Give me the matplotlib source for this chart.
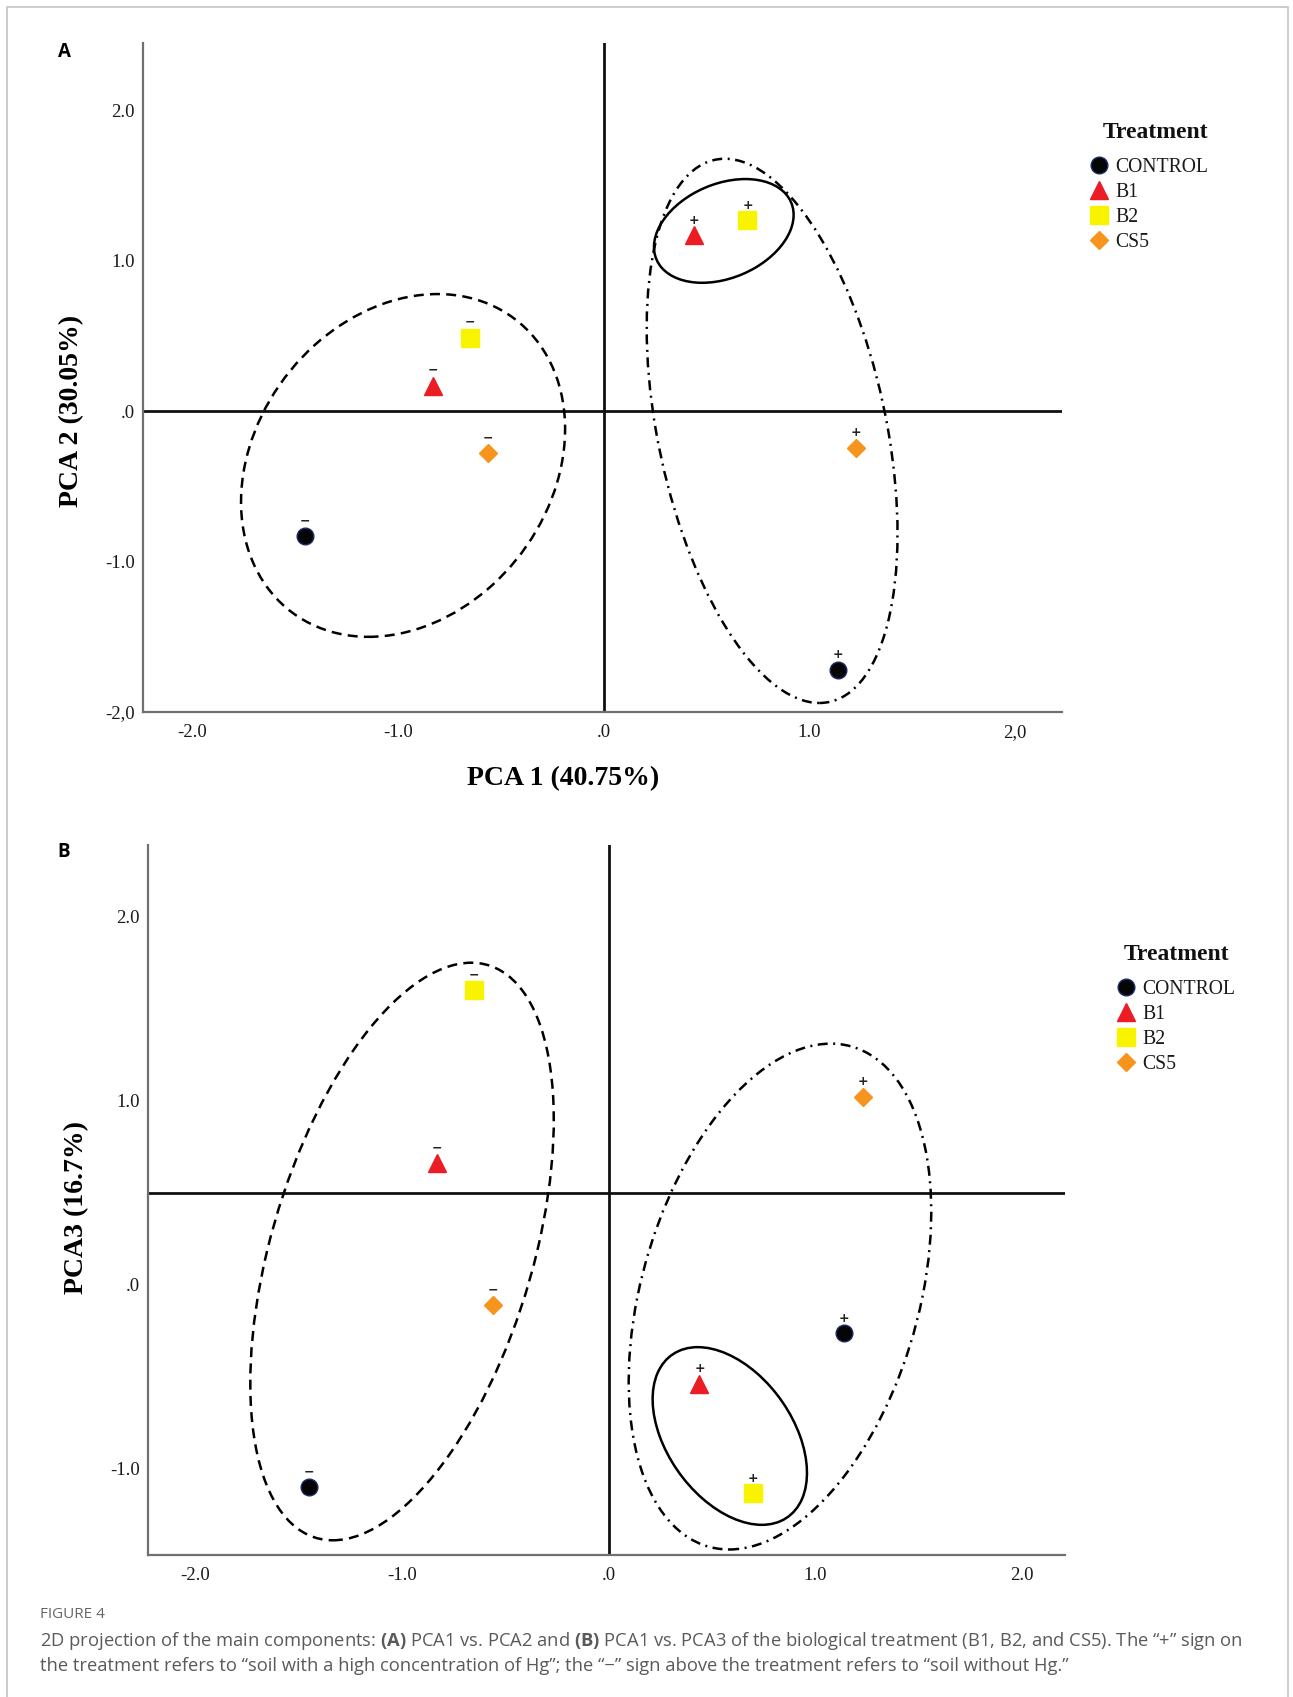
import numpy as np
import matplotlib
matplotlib.use('Agg')
import matplotlib.pyplot as plt
from matplotlib.lines import Line2D
from matplotlib.patches import Circle, Rectangle
from matplotlib.transforms import Affine2D

# ---- data ----
treatments = ['CONTROL', 'B1', 'B2', 'CS5']

# "-" = soil without Hg, "+" = soil with high Hg
pca1_minus = [-1.45, -0.83, -0.65, -0.56]
pca1_plus = [1.14, 0.44, 0.70, 1.23]
pca2_minus = [-0.83, 0.17, 0.49, -0.28]
pca2_plus = [-1.72, 1.17, 1.27, -0.245]
pca3_minus = [-1.10, 0.66, 1.60, -0.11]
pca3_plus = [-0.265, -0.54, -1.135, 1.02]

# group ellipses: centre x, centre y, half width, half height, shear
ell_a_minus = [-0.975, -0.36, 0.77, 1.14, 0.168]
ell_a_plus = [0.82, -0.13, 0.565, 1.81, -0.23]
ell_a_inner = [0.585, 1.20, 0.323, 0.345, 0.105]
ell_b_minus = [-1.0, 0.18, 0.654, 1.57, 0.335]
ell_b_plus = [0.83, -0.065, 0.69, 1.375, 0.246]
ell_b_inner = [0.587, -0.823, 0.34, 0.483, -0.155]

ticks = [-2, -1, 0, 1, 2]
xlabels_a = ['-2.0', '-1.0', '.0', '1.0', '2,0']
ylabels_a = ['-2,0', '-1.0', '.0', '1.0', '2.0']
xlabels_b = ['-2.0', '-1.0', '.0', '1.0', '2.0']
yticks_b = [-1, 0, 1, 2]
ylabels_b = ['-1.0', '.0', '1.0', '2.0']

markers = ['o', '^', 's', 'D']
colors = ['#050505', '#ec1c24', '#f8f400', '#f7941d']
edges = ['#1c2a6a', '#ec1c24', '#f8f400', '#f7941d']
msizes = [12, 13, 13, 9.5]

W, H = 1293, 1697
SERIF = 'Liberation Serif'

plt.rcParams['mathtext.fontset'] = 'custom'
plt.rcParams['mathtext.rm'] = 'Open Sans'
plt.rcParams['mathtext.bf'] = 'Open Sans:bold'

fig = plt.figure(figsize=(W / 100, H / 100), dpi=100)


def px_box(left, top, right, bottom):
    # pixel box (from top-left) -> figure fraction rect
    return [left / W, 1 - bottom / H, (right - left) / W, (bottom - top) / H]


def add_ellipse(ax, e, ls):
    cx, cy, rx, ry, sh = e
    tr = Affine2D(np.array([[rx, sh, cx], [0, ry, cy], [0, 0, 1]])) + ax.transData
    ax.add_patch(Circle((0, 0), 1, transform=tr, fill=False, ec='black',
                        lw=1.8, ls=ls, zorder=2))


def draw_panel(ax, xs_m, ys_m, xs_p, ys_p):
    for i in range(len(treatments)):
        for x, y, sign in [(xs_m[i], ys_m[i], '\u2212'), (xs_p[i], ys_p[i], '+')]:
            ax.plot(x, y, ls='none', marker=markers[i], color=colors[i],
                    mec=edges[i], mew=1, ms=msizes[i], zorder=4)
            ax.annotate(sign, (x, y), xytext=(0, 11), textcoords='offset points',
                        ha='center', va='center', fontsize=9, fontweight='bold',
                        color='#222222', zorder=5)


def style_axes(ax):
    for s in ['top', 'right']:
        ax.spines[s].set_visible(False)
    for s in ['left', 'bottom']:
        ax.spines[s].set_color('#707070')
        ax.spines[s].set_linewidth(1.6)
    ax.axvline(0, color='#111111', lw=2.0, zorder=1)
    ax.tick_params(length=0, labelsize=13.5, labelcolor='#1a1a1a')
    ax.tick_params(axis='x', pad=9)
    ax.tick_params(axis='y', pad=6)
    for lab in ax.get_xticklabels() + ax.get_yticklabels():
        lab.set_family(SERIF)


def add_legend(left, first_row, title_left, title_y):
    handles = [Line2D([], [], ls='none', marker=markers[i], color=colors[i],
                      mec=edges[i], ms=msizes[i]) for i in range(len(treatments))]
    leg = fig.legend(handles, treatments, loc='upper left',
                     bbox_to_anchor=(left / W, 1 - (first_row - 9) / H), frameon=False,
                     prop=dict(family=SERIF, size=14.2),
                     handlelength=0.8, handletextpad=0.45, labelspacing=0.3,
                     borderpad=0, borderaxespad=0)
    for t in leg.get_texts():
        t.set_color('#1a1a1a')
    fig.text(title_left / W, 1 - title_y / H, 'Treatment', family=SERIF,
             weight='bold', fontsize=17, color='#111111', ha='left', va='center')


# ---- panel A: PCA1 vs PCA2 ----
ax_a = fig.add_axes(px_box(143, 43, 1062, 712))
ax_a.set_xlim(-2.24, 2.23)
ax_a.set_ylim(-2.0, 2.45)
ax_a.set_xticks(ticks)
ax_a.set_xticklabels(xlabels_a)
ax_a.set_yticks(ticks)
ax_a.set_yticklabels(ylabels_a)
style_axes(ax_a)
ax_a.axhline(0, color='#111111', lw=2.0, zorder=1)
add_ellipse(ax_a, ell_a_minus, (0, (4, 2.5)))
add_ellipse(ax_a, ell_a_plus, (0, (4, 2.2, 0.8, 2.2)))
add_ellipse(ax_a, ell_a_inner, '-')
draw_panel(ax_a, pca1_minus, pca2_minus, pca1_plus, pca2_plus)
ax_a.set_xlabel('PCA 1 (40.75%)', family=SERIF, weight='bold', fontsize=20)
ax_a.xaxis.set_label_coords(0.457, -0.081)
ax_a.set_ylabel('PCA 2 (30.05%)', family=SERIF, weight='bold', fontsize=20)
ax_a.yaxis.set_label_coords(-0.064, 0.45)
add_legend(1091, 167, 1103, 133)

# ---- panel B: PCA1 vs PCA3 ----
ax_b = fig.add_axes(px_box(148, 845, 1065, 1555))
ax_b.set_xlim(-2.23, 2.21)
ax_b.set_ylim(-1.47, 2.39)
ax_b.set_xticks(ticks)
ax_b.set_xticklabels(xlabels_b)
ax_b.set_yticks(yticks_b)
ax_b.set_yticklabels(ylabels_b)
style_axes(ax_b)
ax_b.axhline(0.5, color='#111111', lw=2.0, zorder=1)
add_ellipse(ax_b, ell_b_minus, (0, (4, 2.5)))
add_ellipse(ax_b, ell_b_plus, (0, (4, 2.2, 0.8, 2.2)))
add_ellipse(ax_b, ell_b_inner, '-')
draw_panel(ax_b, pca1_minus, pca3_minus, pca1_plus, pca3_plus)
ax_b.set_ylabel('PCA3 (16.7%)', family=SERIF, weight='bold', fontsize=20)
ax_b.yaxis.set_label_coords(-0.064, 0.49)
add_legend(1118, 989, 1124, 955)

# ---- panel letters, caption, frame ----
fig.text(64 / W, 1 - 52 / H, 'A', family='Open Sans', weight='bold', fontsize=13.5,
         ha='center', va='center')
fig.text(64 / W, 1 - 852 / H, 'B', family='Open Sans', weight='bold', fontsize=13.5,
         ha='center', va='center')

fig.text(40 / W, 1 - 1614 / H, 'FIGURE 4', family='Open Sans', fontsize=11,
         color='#666666', va='center')
line1 = ('2D projection of the main components: $\\mathbf{(A)}$ PCA1 vs. PCA2 and '
         '$\\mathbf{(B)}$ PCA1 vs. PCA3 of the biological treatment (B1, B2, and CS5). '
         'The \u201c+\u201d sign on')
line2 = ('the treatment refers to \u201csoil with a high concentration of Hg\u201d; '
         'the \u201c\u2212\u201d sign above the treatment refers to \u201csoil without Hg.\u201d')
fig.text(40 / W, 1 - 1641 / H, line1, family='Open Sans', fontsize=13.2,
         color='#5a5a5a', va='center')
fig.text(40 / W, 1 - 1666 / H, line2, family='Open Sans', fontsize=13.2,
         color='#5a5a5a', va='center')

fig.add_artist(Rectangle((7 / W, -0.01), (1288 - 7) / W, 1.01 - 7 / H,
                         transform=fig.transFigure, fill=False, ec='#c4c4c4', lw=1.2))

fig.savefig('out.png', dpi=100)
